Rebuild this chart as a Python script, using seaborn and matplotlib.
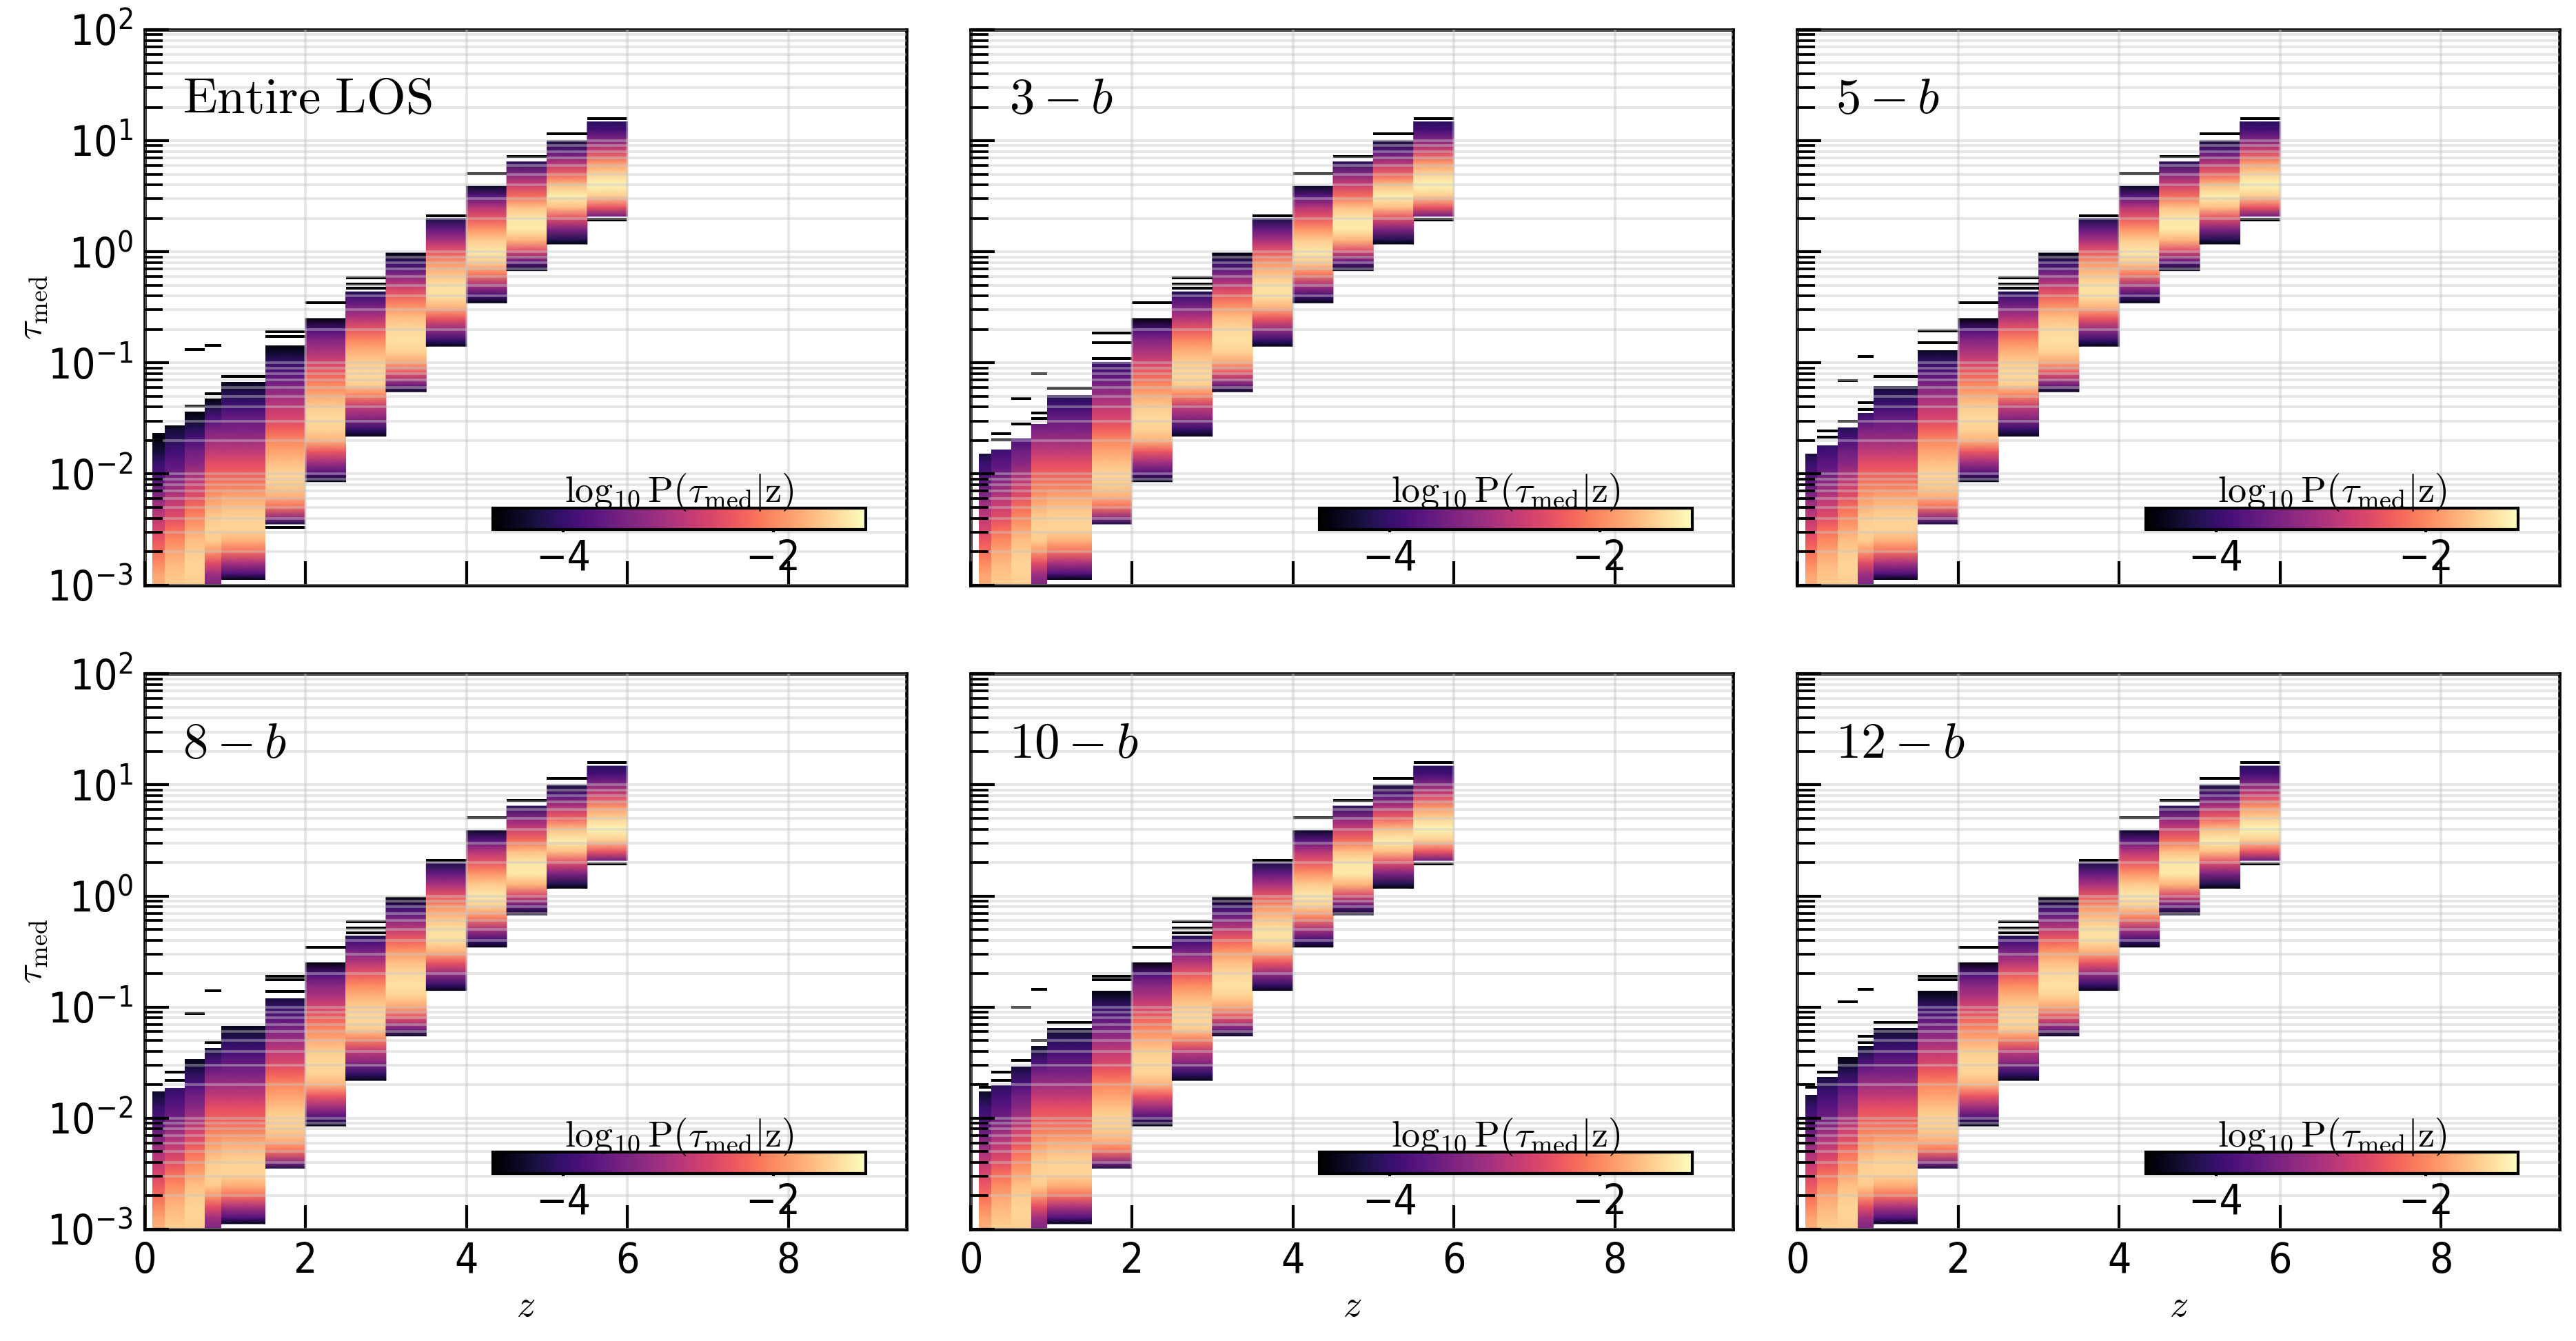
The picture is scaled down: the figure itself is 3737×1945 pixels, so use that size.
import numpy as np
import matplotlib
matplotlib.use("Agg")
import matplotlib.pyplot as plt
import seaborn as sns
from matplotlib import font_manager
from matplotlib.patches import Rectangle
from matplotlib.ticker import LogLocator, NullLocator, NullFormatter, FixedLocator

# ---------------- data ----------------
panel_titles = [r'$\mathrm{Entire\ LOS}$', r'$3-b$', r'$5-b$', r'$8-b$', r'$10-b$', r'$12-b$']

z_edges = [0.10, 0.25, 0.50, 0.75, 0.95, 1.50, 2.00, 2.50, 3.00, 3.50, 4.00, 4.50, 5.00, 5.50, 6.00]

# log10(tau_med) nodes and log10 P(tau_med|z) per redshift column (Entire LOS)
col01_logtau = [-1.63, -1.7, -1.8, -1.9, -2.0, -2.1, -2.2, -2.3, -2.4, -2.5, -2.6, -2.7, -2.8, -2.9, -3.0, -3.1]
col01_logP = [-4.6, -4.5, -4.3, -4.0, -3.8, -3.6, -3.3, -3.0, -2.8, -2.6, -2.4, -2.2, -2.0, -1.8, -1.7, -1.6]
col02_logtau = [-1.56, -1.6, -1.7, -1.8, -1.9, -2.0, -2.1, -2.2, -2.3, -2.4, -2.5, -2.6, -2.7, -2.8, -2.9, -3.0, -3.1]
col02_logP = [-4.6, -4.3, -4.1, -3.9, -3.7, -3.5, -3.2, -2.9, -2.7, -2.5, -2.2, -2.0, -1.8, -1.65, -1.55, -1.5, -1.45]
col03_logtau = [-1.44, -1.5, -1.6, -1.7, -1.8, -1.9, -2.0, -2.1, -2.2, -2.3, -2.4, -2.5, -2.6, -2.7, -2.8, -2.9, -3.0, -3.1]
col03_logP = [-4.6, -4.4, -4.1, -3.8, -3.5, -3.3, -3.0, -2.7, -2.5, -2.2, -2.0, -1.8, -1.6, -1.5, -1.45, -1.45, -1.5, -1.6]
col04_logtau = [-1.32, -1.4, -1.5, -1.6, -1.7, -1.8, -1.9, -2.0, -2.1, -2.2, -2.3, -2.4, -2.5, -2.6, -2.7, -2.8, -2.9, -3.0, -3.1]
col04_logP = [-4.6, -4.2, -3.8, -3.4, -3.1, -2.8, -2.5, -2.3, -2.1, -1.9, -1.7, -1.5, -1.45, -1.5, -1.9, -2.5, -3.1, -3.4, -3.7]
col05_logtau = [-1.17, -1.3, -1.4, -1.5, -1.6, -1.7, -1.8, -1.9, -2.0, -2.1, -2.2, -2.3, -2.4, -2.5, -2.6, -2.7, -2.8, -2.9, -2.95]
col05_logP = [-4.5, -4.1, -3.9, -3.6, -3.4, -3.1, -2.8, -2.5, -2.3, -2.1, -1.8, -1.6, -1.45, -1.45, -1.7, -2.2, -3.0, -3.8, -4.5]
col06_logtau = [-0.84, -0.9, -1.0, -1.1, -1.2, -1.3, -1.4, -1.5, -1.6, -1.7, -1.8, -1.9, -2.0, -2.1, -2.2, -2.3, -2.4, -2.45]
col06_logP = [-4.6, -4.4, -4.0, -3.7, -3.4, -3.1, -2.8, -2.6, -2.3, -2.0, -1.8, -1.6, -1.45, -1.5, -1.7, -2.2, -3.3, -4.2]
col07_logtau = [-0.6, -0.7, -0.8, -0.9, -1.0, -1.1, -1.2, -1.3, -1.4, -1.5, -1.6, -1.7, -1.8, -1.9, -2.0, -2.07]
col07_logP = [-4.6, -3.8, -3.3, -3.0, -2.6, -2.3, -2.0, -1.75, -1.5, -1.4, -1.45, -1.7, -2.4, -3.1, -3.8, -4.5]
col08_logtau = [-0.36, -0.4, -0.5, -0.6, -0.7, -0.8, -0.9, -1.0, -1.1, -1.2, -1.3, -1.4, -1.5, -1.6, -1.66]
col08_logP = [-4.2, -3.9, -3.4, -2.9, -2.4, -2.0, -1.7, -1.5, -1.4, -1.5, -2.1, -2.8, -3.3, -4.0, -4.5]
col09_logtau = [-0.01, -0.1, -0.2, -0.3, -0.4, -0.5, -0.6, -0.7, -0.8, -0.9, -1.0, -1.1, -1.2, -1.26]
col09_logP = [-4.6, -4.0, -3.4, -2.8, -2.3, -1.9, -1.6, -1.4, -1.35, -1.45, -1.8, -2.5, -3.5, -4.4]
col10_logtau = [0.3, 0.2, 0.1, 0.0, -0.1, -0.2, -0.3, -0.4, -0.5, -0.6, -0.7, -0.8, -0.85]
col10_logP = [-4.2, -3.6, -3.0, -2.4, -1.9, -1.6, -1.35, -1.35, -1.7, -2.4, -3.2, -4.0, -4.5]
col11_logtau = [0.59, 0.5, 0.4, 0.3, 0.2, 0.1, 0.0, -0.1, -0.2, -0.3, -0.4, -0.46]
col11_logP = [-4.4, -3.7, -2.9, -2.4, -1.9, -1.5, -1.3, -1.5, -2.1, -3.0, -3.9, -4.5]
col12_logtau = [0.81, 0.7, 0.6, 0.5, 0.4, 0.3, 0.2, 0.1, 0.0, -0.1, -0.17]
col12_logP = [-4.1, -3.3, -2.7, -2.2, -1.6, -1.3, -1.3, -1.7, -2.6, -3.7, -4.5]
col13_logtau = [1.0, 0.9, 0.8, 0.7, 0.6, 0.5, 0.4, 0.3, 0.2, 0.1, 0.07]
col13_logP = [-4.3, -3.7, -2.9, -2.3, -1.6, -1.25, -1.6, -2.5, -3.4, -4.2, -4.6]
col14_logtau = [1.17, 1.1, 1.0, 0.9, 0.8, 0.7, 0.6, 0.5, 0.4, 0.32]
col14_logP = [-4.1, -3.9, -3.3, -2.6, -1.9, -1.45, -1.2, -1.5, -2.4, -3.5]

# single-count bins (isolated rows) shared by all panels: column index, log10 tau
outlier_col_hi = [7, 8, 8, 8, 10, 11, 12, 13, 14, 14]
outlier_logtau_hi = [-0.46, -0.233, -0.288, -0.329, 0.323, 0.704, 0.858, 1.06, 1.20, 0.29]

# per-panel upper limits of the low-redshift columns 1..6 (log10 tau)
tops_entire = [-1.63, -1.56, -1.44, -1.32, -1.17, -0.84]
tops_3b = [-1.82, -1.78, -1.68, -1.55, -1.29, -0.99]
tops_5b = [-1.82, -1.74, -1.58, -1.45, -1.21, -0.885]
tops_8b = [-1.76, -1.73, -1.47, -1.37, -1.16, -0.92]
tops_10b = [-1.76, -1.705, -1.535, -1.35, -1.19, -0.85]
tops_12b = [-1.79, -1.63, -1.45, -1.35, -1.19, -0.85]

# per-panel isolated rows in low-redshift columns: column index, log10 tau
out_col_entire = [3, 3, 4, 4, 5, 6, 6, 6]
out_lt_entire = [-0.88, -1.39, -0.845, -1.28, -1.12, -0.72, -0.76, -2.48]
out_col_3b = [2, 2, 3, 3, 4, 4, 4, 5, 6, 6, 6]
out_lt_3b = [-1.64, -1.69, -1.32, -1.55, -1.10, -1.45, -1.50, -1.23, -0.73, -0.82, -0.96]
out_col_5b = [2, 2, 3, 3, 4, 4, 4, 5, 6, 6]
out_lt_5b = [-1.61, -1.67, -1.16, -1.525, -0.94, -1.36, -1.42, -1.12, -0.71, -0.82]
out_col_8b = [2, 2, 3, 4, 4, 6, 6, 6]
out_lt_8b = [-1.585, -1.66, -1.06, -0.855, -1.32, -0.72, -0.755, -0.86]
out_col_10b = [1, 2, 2, 3, 3, 4, 4, 5, 6, 6]
out_lt_10b = [-1.72, -1.585, -1.66, -1.0, -1.48, -0.84, -1.30, -1.14, -0.72, -0.755]
out_col_12b = [1, 2, 3, 4, 4, 4, 5, 6, 6]
out_lt_12b = [-1.72, -1.585, -0.955, -0.84, -1.26, -1.32, -1.14, -0.72, -0.755]

cbar_vmin, cbar_vmax = -4.67, -1.12
cbar_ticks = [-4, -2]
x_ticks = [0, 2, 4, 6, 8]

# ---------------- style ----------------
sns.set_theme(style="ticks")

entries = font_manager.fontManager.ttflist
names = {f.name for f in entries}
tick_size = 13
if 'Liberation Sans Narrow' in names:
    plt.rcParams['font.family'] = ['Liberation Sans Narrow', 'DejaVu Sans']
    tick_size = 15.5
elif any(f.name == 'DejaVu Sans' and 'condensed' in str(f.stretch) for f in entries):
    plt.rcParams['font.family'] = ['DejaVu Sans']
    plt.rcParams['font.stretch'] = 'condensed'
    tick_size = 14.5
else:
    plt.rcParams['font.family'] = ['DejaVu Sans']
plt.rcParams['mathtext.fontset'] = 'cm'
plt.rcParams['axes.edgecolor'] = 'black'
plt.rcParams['xtick.color'] = 'black'
plt.rcParams['ytick.color'] = 'black'
plt.rcParams['text.color'] = 'black'
plt.rcParams['axes.labelcolor'] = 'black'

cmap = sns.color_palette("magma", as_cmap=True)

col_logtau = [col01_logtau, col02_logtau, col03_logtau, col04_logtau, col05_logtau, col06_logtau, col07_logtau,
              col08_logtau, col09_logtau, col10_logtau, col11_logtau, col12_logtau, col13_logtau, col14_logtau]
col_logP = [col01_logP, col02_logP, col03_logP, col04_logP, col05_logP, col06_logP, col07_logP,
            col08_logP, col09_logP, col10_logP, col11_logP, col12_logP, col13_logP, col14_logP]
panel_tops = [tops_entire, tops_3b, tops_5b, tops_8b, tops_10b, tops_12b]
panel_out_col = [out_col_entire, out_col_3b, out_col_5b, out_col_8b, out_col_10b, out_col_12b]
panel_out_lt = [out_lt_entire, out_lt_3b, out_lt_5b, out_lt_8b, out_lt_10b, out_lt_12b]

W, H = 3737, 1945
fig = plt.figure(figsize=(W / 300, H / 300), dpi=300)

lefts = [0.0561, 0.3769, 0.6977]
bottoms = [0.5637, 0.0833]
aw, ah = 0.2959, 0.4142
row_h = 0.025  # thickness of isolated rows in dex
y_lo, y_hi = 1e-3, 1e2

for p in range(6):
    r, c = divmod(p, 3)
    ax = fig.add_axes([lefts[c], bottoms[r], aw, ah])
    ax.set_yscale('log')
    mesh = None
    for k in range(14):
        zl, zr = z_edges[k], z_edges[k + 1]
        lt = np.array(col_logtau[k])
        lp = np.array(col_logP[k])
        X = np.column_stack([np.full(lt.size, zl), np.full(lt.size, zr)])
        Y = np.column_stack([10 ** lt, 10 ** lt])
        C = np.column_stack([lp, lp])
        m = ax.pcolormesh(X, Y, C, shading='gouraud', cmap=cmap, vmin=cbar_vmin, vmax=cbar_vmax, zorder=1)
        if k < 6:
            top = min(panel_tops[p][k], lt.max())
            clip = Rectangle((zl, y_lo), zr - zl, 10 ** top - y_lo, transform=ax.transData)
            m.set_clip_path(clip)
        mesh = m
    outs = list(zip(outlier_col_hi, outlier_logtau_hi)) + list(zip(panel_out_col[p], panel_out_lt[p]))
    for k, t in outs:
        zl, zr = z_edges[k - 1], z_edges[k]
        ax.pcolormesh([zl, zr], [10 ** (t - row_h / 2), 10 ** (t + row_h / 2)], [[cbar_vmin]],
                      shading='flat', cmap=cmap, vmin=cbar_vmin, vmax=cbar_vmax, zorder=1)

    ax.set_xlim(0, 9.47)
    ax.set_ylim(y_lo, y_hi)
    ax.xaxis.set_major_locator(FixedLocator(x_ticks))
    ax.xaxis.set_minor_locator(NullLocator())
    ax.yaxis.set_major_locator(LogLocator(base=10, numticks=20))
    ax.yaxis.set_minor_locator(LogLocator(base=10, subs=np.arange(2, 10), numticks=200))
    ax.yaxis.set_minor_formatter(NullFormatter())

    ax.grid(True, axis='x', which='major', color='0.78', alpha=0.45, lw=0.9)
    ax.grid(True, axis='y', which='both', color='0.78', alpha=0.45, lw=0.9)
    ax.set_axisbelow(False)

    ax.tick_params(axis='both', which='major', direction='in', length=8.4, width=1.0,
                   labelsize=tick_size, top=False, right=False, pad=4)
    ax.tick_params(axis='y', which='minor', direction='in', length=6.2, width=0.9, right=False)
    for s in ax.spines.values():
        s.set_linewidth(1.1)
        s.set_color('black')

    if r == 0:
        ax.tick_params(axis='x', labelbottom=False)
    else:
        ax.set_xlabel(r'$z$', fontsize=13)
        ax.xaxis.set_label_coords(0.5, -0.105)
    if c == 0:
        ax.set_ylabel(r'$\tau_{\rm med}$', fontsize=13)
        ax.yaxis.set_label_coords(-0.125, 0.5)
    else:
        ax.tick_params(axis='y', labelleft=False)

    ax.text(0.05, 0.875, panel_titles[p], transform=ax.transAxes, fontsize=17.5, ha='left', va='center')

    cax = ax.inset_axes([0.457, 0.10, 0.489, 0.039])
    cb = fig.colorbar(mesh, cax=cax, orientation='horizontal')
    cb.set_ticks(cbar_ticks)
    cax.tick_params(axis='x', which='major', direction='in', top=True, bottom=False,
                    labeltop=False, labelbottom=True, length=8.5, width=1.0, labelsize=tick_size, pad=3)
    cax.tick_params(axis='x', which='minor', length=0)
    cb.outline.set_linewidth(1.0)
    cb.outline.set_edgecolor('black')
    cax.set_title(r'$\log_{10}\mathrm{P}\left(\tau_{\rm med}|\mathrm{z}\right)$', fontsize=13, pad=2)

fig.savefig('out.png', dpi=300)
